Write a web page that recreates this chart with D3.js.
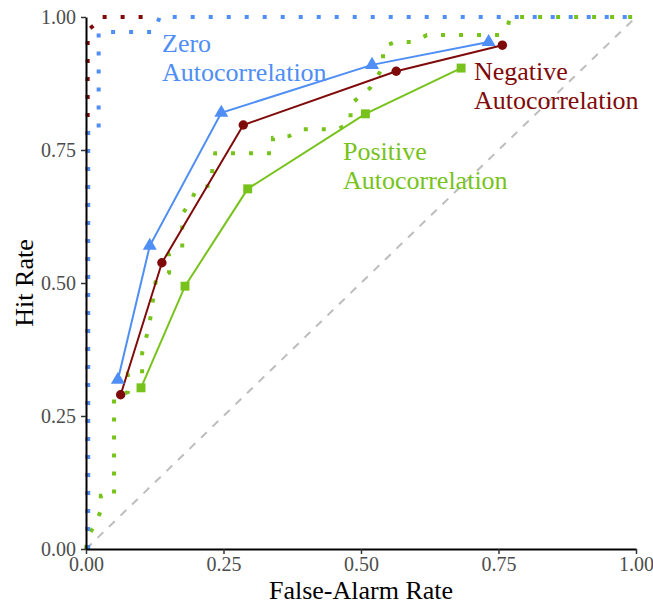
<!DOCTYPE html>
<html>
<head>
<meta charset="utf-8">
<script src="https://cdn.jsdelivr.net/npm/d3@7"></script>
<style>
  html, body { margin: 0; padding: 0; background: #fff; }
  svg { display: block; }
  svg text { font-family: "Liberation Serif", "Times New Roman", serif; }
</style>
</head>
<body>
<svg id="chart" width="653" height="604"></svg>
<script>
// Axis ticks
const tickValues = [0, 0.25, 0.5, 0.75, 1];

// Fitted ROC points (false-alarm rate, hit rate) per condition
const zeroFA = [0.058, 0.116, 0.246, 0.520, 0.732];
const zeroHit = [0.318, 0.570, 0.820, 0.910, 0.953];
const negFA = [0.063, 0.138, 0.286, 0.564, 0.757];
const negHit = [0.290, 0.538, 0.797, 0.898, 0.947];
const posFA = [0.100, 0.180, 0.294, 0.508, 0.682];
const posHit = [0.303, 0.494, 0.677, 0.818, 0.904];

// Empirical ROC step curves
const zeroEmpFA = [0.004, 0.004, 0.023, 0.023, 0.124, 0.134, 1.0];
const zeroEmpHit = [0.0, 0.790, 0.790, 0.972, 0.972, 1.0, 1.0];
const negEmpFA = [0.003, 0.003, 0.015, 0.024, 0.125];
const negEmpHit = [0.0, 0.975, 0.985, 1.0, 1.0];
const posEmpFA = [0.0, 0.004, 0.017, 0.026, 0.027, 0.051, 0.051, 0.076, 0.076, 0.102, 0.102, 0.115, 0.127,
  0.151, 0.151, 0.175, 0.175, 0.189, 0.201, 0.228, 0.230, 0.235, 0.340, 0.340, 0.369, 0.393, 0.456, 0.481,
  0.481, 0.517, 0.540, 0.540, 0.562, 0.595, 0.620, 0.751, 0.767, 0.771, 1.0];
const posEmpHit = [0.0, 0.026, 0.045, 0.070, 0.100, 0.100, 0.285, 0.295, 0.330, 0.330, 0.368, 0.420, 0.505,
  0.519, 0.555, 0.564, 0.630, 0.650, 0.677, 0.684, 0.718, 0.744, 0.744, 0.773, 0.776, 0.789, 0.789, 0.800,
  0.836, 0.867, 0.906, 0.944, 0.953, 0.953, 0.966, 0.966, 0.983, 1.0, 1.0];

const colors = { zero: "#4f8ef5", neg: "#7f0a0a", pos: "#77c31c" };
const serif = "Liberation Serif";

const svg = d3.select("#chart");
const x = d3.scaleLinear().domain([0, 1]).range([86, 636]);
const y = d3.scaleLinear().domain([0, 1]).range([549, 17]);

const zip = (a, b) => a.map((v, i) => [v, b[i]]);
const line = d3.line().x(d => x(d[0])).y(d => y(d[1]));

// Chance diagonal
svg.append("path")
  .attr("d", line([[0, 0], [1, 1]]))
  .attr("fill", "none")
  .attr("stroke", "#bdbdbd")
  .attr("stroke-width", 2)
  .attr("stroke-dasharray", "8 8");

// Empirical step curves (dotted)
const dotted = [
  { fa: posEmpFA, hit: posEmpHit, c: colors.pos },
  { fa: negEmpFA, hit: negEmpHit, c: colors.neg },
  { fa: zeroEmpFA, hit: zeroEmpHit, c: colors.zero }
];
dotted.forEach(s => {
  svg.append("path")
    .attr("d", line(zip(s.fa, s.hit)))
    .attr("fill", "none")
    .attr("stroke", s.c)
    .attr("stroke-width", 4)
    .attr("stroke-dasharray", "4 14");
});

// Fitted curves with markers
const fitted = [
  { fa: posFA, hit: posHit, c: colors.pos, sym: d3.symbolSquare, size: 80 },
  { fa: negFA, hit: negHit, c: colors.neg, sym: d3.symbolCircle, size: 70 },
  { fa: zeroFA, hit: zeroHit, c: colors.zero, sym: d3.symbolTriangle, size: 85 }
];
fitted.forEach(s => {
  const pts = zip(s.fa, s.hit);
  svg.append("path")
    .attr("d", line(pts))
    .attr("fill", "none")
    .attr("stroke", s.c)
    .attr("stroke-width", 2);
  svg.selectAll(null).data(pts).enter().append("path")
    .attr("d", d3.symbol().type(s.sym).size(s.size))
    .attr("transform", d => `translate(${x(d[0])},${y(d[1])})`)
    .attr("fill", s.c);
});

// Axes (drawn over the panel)
const fmt = d3.format(".2f");
const xAxis = svg.append("g").attr("transform", "translate(0,549)")
  .call(d3.axisBottom(x).tickValues(tickValues).tickFormat(fmt).tickSize(5).tickPadding(3).tickSizeOuter(0));
const yAxis = svg.append("g").attr("transform", "translate(86,0)")
  .call(d3.axisLeft(y).tickValues(tickValues).tickFormat(fmt).tickSize(5).tickPadding(5).tickSizeOuter(0));
[xAxis, yAxis].forEach(g => {
  g.attr("font-family", serif).attr("font-size", 20);
  g.select(".domain").attr("stroke", "#000").attr("stroke-width", 2);
  g.selectAll(".tick line").attr("stroke", "#333").attr("stroke-width", 1.5);
  g.selectAll(".tick text").attr("fill", "#4d4d4d");
});

// Axis titles
svg.append("text")
  .attr("x", (x(0) + x(1)) / 2).attr("y", 599)
  .attr("text-anchor", "middle")
  .attr("font-family", serif).attr("font-size", 26)
  .text("False-Alarm Rate");
svg.append("text")
  .attr("transform", `translate(33,${(y(0) + y(1)) / 2}) rotate(-90)`)
  .attr("text-anchor", "middle")
  .attr("font-family", serif).attr("font-size", 26)
  .text("Hit Rate");

// Direct labels
const labels = [
  { lines: ["Zero", "Autocorrelation"], x: 162, y: 52, c: colors.zero },
  { lines: ["Negative", "Autocorrelation"], x: 474, y: 80, c: colors.neg },
  { lines: ["Positive", "Autocorrelation"], x: 343, y: 160, c: colors.pos }
];
labels.forEach(l => {
  const t = svg.append("text")
    .attr("x", l.x).attr("y", l.y)
    .attr("fill", l.c)
    .attr("font-family", serif).attr("font-size", 26);
  l.lines.forEach((s, i) => {
    t.append("tspan").attr("x", l.x).attr("dy", i === 0 ? 0 : 29).text(s);
  });
});
</script>
</body>
</html>
